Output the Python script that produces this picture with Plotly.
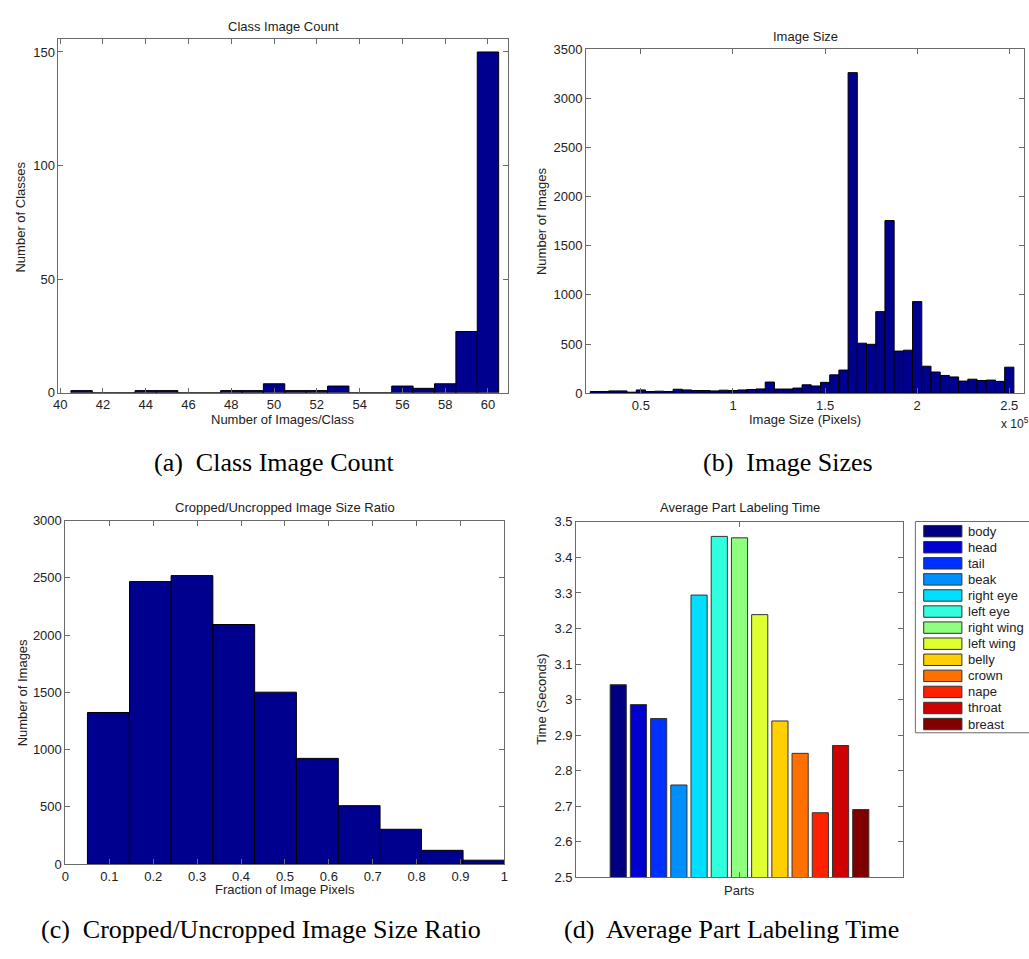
import plotly.graph_objects as go

W, H = 1029, 959

# ---------------- data ----------------
# (a) Class Image Count
class_bins = [41, 42, 43, 44, 45, 46, 47, 48, 49, 50, 51, 52, 53, 54, 55, 56, 57, 58, 59, 60]
class_counts = [1, 0, 0, 1, 1, 0, 0, 1, 1, 4, 1, 1, 3, 0, 0, 3, 2, 4, 27, 150]

# (b) Image Size (x in units of 10^5 pixels)
size_bins = [0.25, 0.30, 0.35, 0.40, 0.45, 0.50, 0.55, 0.60, 0.65, 0.70,
             0.75, 0.80, 0.85, 0.90, 0.95, 1.00, 1.05, 1.10, 1.15, 1.20,
             1.25, 1.30, 1.35, 1.40, 1.45, 1.50, 1.55, 1.60, 1.65, 1.70,
             1.75, 1.80, 1.85, 1.90, 1.95, 2.00, 2.05, 2.10, 2.15, 2.20,
             2.25, 2.30, 2.35, 2.40, 2.45, 2.50]
size_counts = [17, 17, 23, 23, 10, 33, 17, 20, 17, 40,
               33, 27, 27, 23, 30, 27, 33, 37, 43, 113,
               42, 42, 52, 85, 73, 110, 186, 235, 3260, 508,
               497, 829, 1755, 428, 437, 931, 274, 215, 180, 165,
               123, 142, 129, 133, 120, 264]

# (c) Cropped/Uncropped Image Size Ratio
ratio_bins = [0.0977, 0.1936, 0.2883, 0.3835, 0.4786, 0.5741, 0.6692, 0.7635, 0.8583, 0.9530]
ratio_counts = [1324, 2467, 2519, 2092, 1501, 923, 510, 304, 120, 34]

# (d) Average Part Labeling Time
parts = ["body", "head", "tail", "beak", "right eye", "left eye", "right wing",
         "left wing", "belly", "crown", "nape", "throat", "breast"]
part_times = [3.042, 2.986, 2.947, 2.760, 3.294, 3.459, 3.455,
              3.239, 2.940, 2.849, 2.682, 2.871, 2.691]
part_colors = ["#000080", "#0000CF", "#0030FF", "#008FFF", "#00DFFF", "#30FFDF", "#8FFF80",
               "#DFFF30", "#FFCF00", "#FF7000", "#FF2000", "#CF0000", "#800000"]

# ---------------- style ----------------
FONT = "Liberation Sans, Arial, sans-serif"
SERIF = "Liberation Serif, Times New Roman, serif"
AX = "#6a6a6a"
TXT = "#222222"
HIST = "#00008F"


def px(x):
    return x / W


def py(y):
    return 1 - y / H


axis_common = dict(showline=True, linecolor=AX, linewidth=1, mirror="ticks",
                   ticks="inside", ticklen=5, tickcolor=AX, tickwidth=1,
                   showgrid=False, zeroline=False,
                   tickfont=dict(family=FONT, size=13, color=TXT))

fig = go.Figure()

fig.add_trace(go.Bar(x=class_bins, y=class_counts, width=1, marker=dict(color=HIST, line=dict(color="black", width=1)),
                     xaxis="x", yaxis="y", showlegend=False))
fig.add_trace(go.Bar(x=size_bins, y=size_counts, width=0.05, marker=dict(color=HIST, line=dict(color="black", width=1)),
                     xaxis="x2", yaxis="y2", showlegend=False))
fig.add_trace(go.Bar(x=ratio_bins, y=ratio_counts, width=0.0951, marker=dict(color=HIST, line=dict(color="black", width=1)),
                     xaxis="x3", yaxis="y3", showlegend=False))
for name, t, c in zip(parts, part_times, part_colors):
    fig.add_trace(go.Bar(x=[1], y=[t], name=name, marker=dict(color=c, line=dict(color="#333333", width=1)),
                         xaxis="x4", yaxis="y4", showlegend=False))

# panel geometry (pixels)
A = (53, 507, 33, 392)
B = (585.7, 1028, 42.7, 392.3)
C = (60, 503.3, 521.7, 870.7)
D = (575.7, 905.7, 523, 884.3)


def dom(p):
    return [px(p[0]), px(p[1])], [py(p[3]), py(p[2])]


ax, ay = dom(A)
bx, by = dom(B)
cx, cy = dom(C)
dx, dy = dom(D)

fig.update_layout(
    width=W, height=H, margin=dict(l=0, r=0, t=0, b=0),
    paper_bgcolor="white", plot_bgcolor="white",
    barmode="group", bargap=0.196, bargroupgap=0.2,
    xaxis=dict(domain=ax, anchor="y", range=[39.92, 60.94], tickvals=list(range(40, 61, 2)), **axis_common),
    yaxis=dict(domain=ay, anchor="x", range=[0, 155.5], tickvals=[0, 50, 100, 150], **axis_common),
    xaxis2=dict(domain=bx, anchor="y2", range=[0.202, 2.58], tickvals=[0.5, 1, 1.5, 2, 2.5],
                ticktext=["0.5", "1", "1.5", "2", "2.5"], **axis_common),
    yaxis2=dict(domain=by, anchor="x2", range=[0, 3500], tickvals=list(range(0, 3501, 500)), **axis_common),
    xaxis3=dict(domain=cx, anchor="y3", range=[0, 1], tickvals=[i / 10 for i in range(11)],
                ticktext=["0", "0.1", "0.2", "0.3", "0.4", "0.5", "0.6", "0.7", "0.8", "0.9", "1"], **axis_common),
    yaxis3=dict(domain=cy, anchor="x3", range=[0, 3000], tickvals=list(range(0, 3001, 500)), **axis_common),
    xaxis4=dict(domain=dx, anchor="y4", range=[0.5, 1.5], tickvals=[1], showticklabels=False, **axis_common),
    yaxis4=dict(domain=dy, anchor="x4", range=[2.5, 3.5], tickvals=[2.5 + i / 10 for i in range(11)],
                ticktext=["2.5", "2.6", "2.7", "2.8", "2.9", "3", "3.1", "3.2", "3.3", "3.4", "3.5"], **axis_common),
)

ann = []


def text(x, y, s, size=13, angle=0, xanchor="center", family=FONT, color=TXT):
    ann.append(dict(x=px(x), y=py(y), xref="paper", yref="paper", text=s, showarrow=False,
                    textangle=angle, xanchor=xanchor, yanchor="middle",
                    font=dict(family=family, size=size, color=color)))


# titles
text(280, 20, "Class Image Count")
text(807, 29.5, "Image Size")
text(281.7, 508.5, "Cropped/Uncropped Image Size Ratio")
text(741, 508.5, "Average Part Labeling Time")
# x labels
text(280, 419, "Number of Images/Class")
text(807, 419, "Image Size (Pixels)")
text(281.7, 897, "Fraction of Image Pixels")
text(741, 898, "Parts")
# y labels
text(15, 213, "Number of Classes", angle=-90)
text(540.7, 218, "Number of Images", angle=-90)
text(16.7, 696.7, "Number of Images", angle=-90)
text(540, 703, "Time (Seconds)", angle=-90)
# exponent label
text(1003, 423, "x 10<sup>5</sup>", size=12, xanchor="left")
# captions
text(271, 463, "(a)  Class Image Count", size=26, family=SERIF, color="black")
text(790, 463, "(b)  Image Sizes", size=26, family=SERIF, color="black")
text(257.5, 937, "(c)  Cropped/Uncropped Image Size Ratio", size=26, family=SERIF, color="black")
text(733, 937, "(d)  Average Part Labeling Time", size=26, family=SERIF, color="black")

# legend for panel (d)
shapes = [dict(type="rect", xref="paper", yref="paper", x0=px(918.3), x1=px(1040), y0=py(737.3), y1=py(522.7),
               line=dict(color=AX, width=1), fillcolor="white")]
row_h = 16.33
for i, (name, c) in enumerate(zip(parts, part_colors)):
    yc = 532.5 + row_h * i
    shapes.append(dict(type="rect", xref="paper", yref="paper", x0=px(926.7), x1=px(965.3),
                       y0=py(yc + 5.8), y1=py(yc - 5.8), fillcolor=c, line=dict(color="#333333", width=1)))
    text(969.3, yc, name, size=13, xanchor="left")

fig.update_layout(annotations=ann, shapes=shapes)

fig.write_html("out.html")
